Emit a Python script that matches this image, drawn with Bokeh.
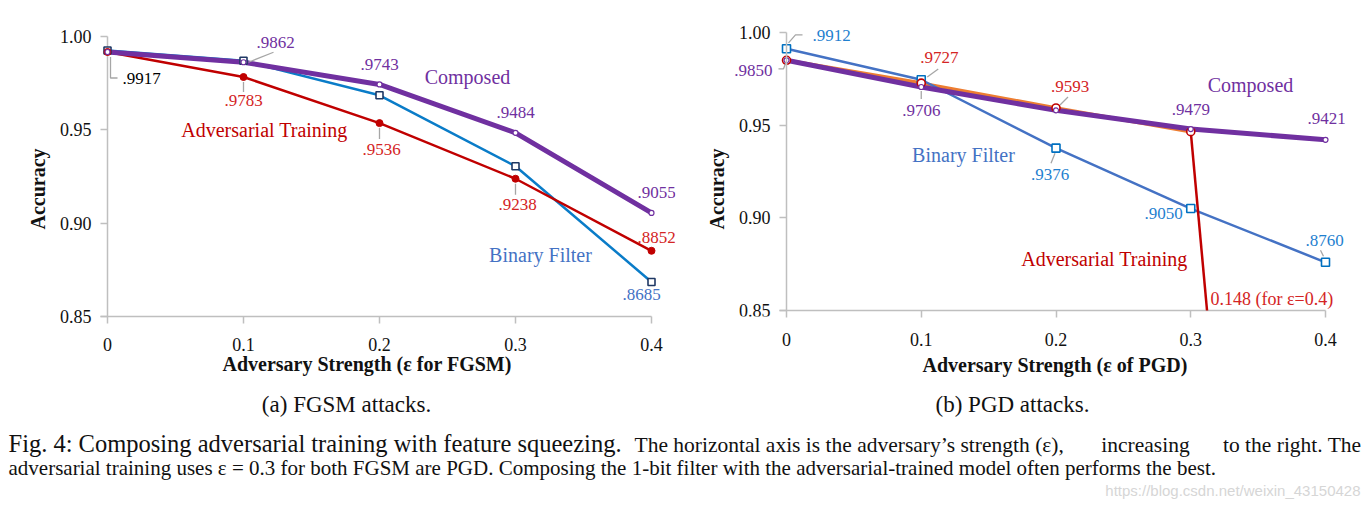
from bokeh.plotting import figure
from bokeh.models import Range1d, FixedTicker, Title, CustomJSTickFormatter
from bokeh.layouts import column, row
from bokeh.embed import file_html
from bokeh.resources import INLINE
from bokeh.core.properties import value

# ---------------- data ----------------
eps = [0.0, 0.1, 0.2, 0.3, 0.4]
x_ticks = [0.0, 0.1, 0.2, 0.3, 0.4]
x_tick_labels = ["0", "0.1", "0.2", "0.3", "0.4"]
y_ticks = [0.85, 0.90, 0.95, 1.00]
y_tick_labels = ["0.85", "0.90", "0.95", "1.00"]
y_floor = 0.85

fgsm_binary = [0.9925, 0.9870, 0.9685, 0.9305, 0.8685]
fgsm_adv = [0.9917, 0.9783, 0.9536, 0.9238, 0.8852]
fgsm_composed = [0.9917, 0.9862, 0.9743, 0.9484, 0.9055]

pgd_binary = [0.9912, 0.9745, 0.9376, 0.9050, 0.8760]
pgd_adv = [0.9850, 0.9727, 0.9593, 0.9465, 0.148]
pgd_composed = [0.9850, 0.9706, 0.9580, 0.9479, 0.9421]

name_binary = "Binary Filter"
name_adv = "Adversarial Training"
name_composed = "Composed"

fgsm_xlabel = "Adversary Strength (ε for FGSM)"
pgd_xlabel = "Adversary Strength (ε of PGD)"
ylabel = "Accuracy"

cap_a = "(a) FGSM attacks."
cap_b = "(b) PGD attacks."
fig_big = "Fig. 4: Composing adversarial training with feature squeezing."
fig_rest_1 = "The horizontal axis is the adversary\u2019s strength (\u03b5),"
fig_rest_2 = "increasing"
fig_rest_3 = "to the right. The"
fig_line2 = ("adversarial training uses \u03b5 = 0.3 for both FGSM are PGD. Composing the 1-bit "
             "filter with the adversarial-trained model often performs the best.")
watermark = "https://blog.csdn.net/weixin_43150428"

# ---------------- style ----------------
PURPLE = "#7030A0"
RED = "#C00000"
RED_TXT = "#D42424"
BLUE_LINE = "#0A7CC8"
BLUE_PGD = "#4472C4"
BLUE_TXT = "#1F7FCF"
NAME_BLUE = "#4472C4"
ORANGE = "#ED7D31"
NAVY = "#1F3864"
AXIS_GREY = "#BFBFBF"
LEAD_GREY = "#A6A6A6"
SERIF = "Liberation Serif"
TICK_FONT = "Liberation Serif, serif"
TXT = "#111111"

TICK_FMT_CODE = """
let best = 0, d = Infinity;
for (let i = 0; i < tvals.length; i++) {
  const e = Math.abs(tvals[i] - tick);
  if (e < d) { d = e; best = i; }
}
return tlabels[best];
"""

HEIGHT = 392
FRAME_TOP = 14
FRAME_BOTTOM = 316


class Geom:
    def __init__(self, ax, pxx, top1, pxy):
        self.ax, self.pxx, self.top1, self.pxy = ax, pxx, top1, pxy

    def px(self, lx, ly):
        return (lx - self.ax) / self.pxx, 1 - (ly - self.top1) / self.pxy

    def off(self, x, v, dx, dy):
        return x + dx / self.pxx, v - dy / self.pxy


def base_fig(g, width, left, right, ys):
    xs = (left - g.ax) / g.pxx
    xe = (width - right - g.ax) / g.pxx
    ye = 1 + (g.top1 - FRAME_TOP) / g.pxy
    p = figure(width=width, height=HEIGHT, x_range=Range1d(xs, xe), y_range=Range1d(ys, ye),
               min_border_left=left, min_border_right=right, min_border_top=FRAME_TOP,
               min_border_bottom=HEIGHT - FRAME_BOTTOM, toolbar_location=None,
               output_backend="svg")
    p.outline_line_color = None
    p.grid.visible = False
    p.background_fill_color = "white"
    p.border_fill_color = "white"
    p.xaxis.ticker = FixedTicker(ticks=x_ticks)
    p.xaxis.formatter = CustomJSTickFormatter(args=dict(tvals=x_ticks, tlabels=x_tick_labels),
                                              code=TICK_FMT_CODE)
    p.yaxis.ticker = FixedTicker(ticks=y_ticks)
    p.yaxis.formatter = CustomJSTickFormatter(args=dict(tvals=y_ticks, tlabels=y_tick_labels),
                                              code=TICK_FMT_CODE)
    for ax in (p.xaxis, p.yaxis):
        ax.axis_line_color = AXIS_GREY
        ax.axis_line_width = 1.5
        ax.major_tick_line_color = AXIS_GREY
        ax.major_tick_line_width = 1.5
        ax.minor_tick_line_color = None
        ax.major_label_text_font = TICK_FONT
        ax.major_label_text_font_size = "18px"
        ax.major_label_text_color = TXT
    return p


def add_titles(p, xlabel, xt_offset, xt_standoff, yt_offset, yt_standoff):
    p.add_layout(Title(text=xlabel, align="left", offset=xt_offset, standoff=xt_standoff,
                       text_font=SERIF, text_font_size="20px", text_font_style="bold",
                       text_color=TXT), "below")
    p.add_layout(Title(text=ylabel, align="left", offset=yt_offset, standoff=yt_standoff,
                       text_font=SERIF, text_font_size="20px", text_font_style="bold",
                       text_color=TXT), "left")


def add_labels(p, g, labels):
    for vals, i, color, dx, dy, align in labels:
        x, y = g.off(eps[i], vals[i], dx, dy)
        txt = ("%.4f" % vals[i])[1:]
        p.text(x=[x], y=[y], text=[txt], text_color=color, text_font=value(SERIF),
               text_font_size=value("17px"), text_align=align, text_baseline="middle")


def add_leaders(p, g, leaders):
    xs_all, ys_all = [], []
    for vals, i, pts in leaders:
        xs, ys = [], []
        for dx, dy in pts:
            x, y = g.off(eps[i], vals[i], dx, dy)
            xs.append(x)
            ys.append(y)
        xs_all.append(xs)
        ys_all.append(ys)
    p.multi_line(xs=xs_all, ys=ys_all, line_color=LEAD_GREY, line_width=1.3)


def add_name(p, g, lx, ly, txt, color, size="20px", align="center"):
    x, y = g.px(lx, ly)
    p.text(x=[x], y=[y], text=[txt], text_color=color, text_font=value(SERIF),
           text_font_size=value(size), text_align=align, text_baseline="middle")


# ---------------- (a) FGSM ----------------
g1 = Geom(ax=107, pxx=1360.0, top1=36, pxy=(FRAME_BOTTOM - 36) / (1 - y_floor))
p1 = base_fig(g1, 680, 100, 5, y_floor)
p1.xaxis.bounds = (-7 / g1.pxx, x_ticks[-1])
p1.xaxis.major_tick_out = 7
p1.xaxis.major_tick_in = 0
p1.xaxis.major_label_standoff = 14
p1.yaxis.axis_line_color = None
p1.yaxis.major_tick_out = 0
p1.yaxis.major_tick_in = 7
p1.yaxis.major_label_standoff = 9
p1.segment(x0=[0], y0=[y_floor], x1=[0], y1=[y_ticks[-1]], line_color=AXIS_GREY, line_width=1.5)
add_titles(p1, fgsm_xlabel, 222 - 100, -6, 87, 15)

p1.line(eps, fgsm_binary, line_color=BLUE_LINE, line_width=2.5)
p1.line(eps, fgsm_adv, line_color=RED, line_width=2.5)
p1.line(eps, fgsm_composed, line_color=PURPLE, line_width=5)
p1.scatter(eps, fgsm_binary, marker="square", size=7, fill_color="white",
           line_color=NAVY, line_width=1.6)
p1.scatter(eps, fgsm_adv, marker="circle", size=7, fill_color=RED, line_color=RED)
p1.scatter(eps, fgsm_composed, marker="circle", size=5, fill_color="white",
           line_color=PURPLE, line_width=1.2)

add_leaders(p1, g1, [
    (fgsm_composed, 0, [(3, 5), (3, 26), (10, 26)]),
    (fgsm_composed, 1, [(5, 0), (30, -10)]),
    (fgsm_adv, 1, [(0, 5), (0, 15)]),
    (fgsm_adv, 2, [(0, 5), (0, 16)]),
    (fgsm_adv, 3, [(0, 5), (0, 16)]),
])
add_labels(p1, g1, [
    (fgsm_composed, 0, "#000000", 15, 26.5, "left"),
    (fgsm_composed, 1, PURPLE, 32, -20, "center"),
    (fgsm_composed, 2, PURPLE, 0, -20, "center"),
    (fgsm_composed, 3, PURPLE, 0, -20, "center"),
    (fgsm_composed, 4, PURPLE, 5, -20, "center"),
    (fgsm_adv, 1, RED_TXT, 0, 23.5, "center"),
    (fgsm_adv, 2, RED_TXT, 2, 26, "center"),
    (fgsm_adv, 3, RED_TXT, 2, 26, "center"),
    (fgsm_adv, 4, RED_TXT, 5, -13, "center"),
    (fgsm_binary, 4, NAME_BLUE, -10, 13, "center"),
])
add_name(p1, g1, 467, 76, name_composed, PURPLE)
add_name(p1, g1, 264, 129, name_adv, RED)
add_name(p1, g1, 540, 254, name_binary, NAME_BLUE)

# ---------------- (b) PGD ----------------
# 0.85 sits 6 px above the (row-aligned) frame bottom in this panel
g2 = Geom(ax=106, pxx=1347.5, top1=32, pxy=1853.3)
p2 = base_fig(g2, 689, 48, 5, y_floor - 6 / g2.pxy)
p2.xaxis.axis_line_color = None
p2.xaxis.major_tick_in = 6
p2.xaxis.major_tick_out = 1
p2.xaxis.major_label_standoff = 15
p2.yaxis.fixed_location = 0
p2.yaxis.bounds = (y_floor, y_ticks[-1])
p2.yaxis.major_tick_out = 7
p2.yaxis.major_tick_in = 0
p2.yaxis.major_label_standoff = 9
p2.segment(x0=[-7 / g2.pxx], y0=[y_floor], x1=[x_ticks[-1]], y1=[y_floor],
           line_color=AXIS_GREY, line_width=1.5)
add_titles(p2, pgd_xlabel, 922 - 680 - 48, 6, 87, 2)

# adversarial-training drop towards 0.148, cut where it meets the 0.85 floor
x_cross = eps[3] + (eps[4] - eps[3]) * (pgd_adv[3] - y_floor) / (pgd_adv[3] - pgd_adv[4])

p2.line(eps[:4], pgd_adv[:4], line_color=ORANGE, line_width=3.5)
p2.line(eps, pgd_binary, line_color=BLUE_PGD, line_width=2.5)
p2.line(eps, pgd_composed, line_color=PURPLE, line_width=5)
p2.line([eps[3], x_cross], [pgd_adv[3], y_floor], line_color=RED, line_width=2.5)
p2.scatter(eps, pgd_binary, marker="square", size=8, fill_color="white",
           line_color="#0070C0", line_width=1.6)
p2.scatter(eps[:4], pgd_adv[:4], marker="circle", size=8, fill_color="white",
           line_color=RED, line_width=1.6)
p2.scatter(eps, pgd_composed, marker="circle", size=5, fill_color="white",
           line_color=PURPLE, line_width=1.2)

add_leaders(p2, g2, [
    (pgd_binary, 0, [(2, -6), (9, -14), (16, -14)]),
    (pgd_composed, 0, [(0, 1), (-3, 8.5), (-8, 8.5)]),
    (pgd_adv, 1, [(6, -6), (17, -14)]),
    (pgd_composed, 1, [(0, 4), (0, 12)]),
    (pgd_adv, 2, [(4, -3), (12, -11)]),
    (pgd_binary, 2, [(-1, 5), (-5, 15)]),
    (pgd_binary, 4, [(-2, -6), (-5, -12)]),
])
add_labels(p2, g2, [
    (pgd_binary, 0, BLUE_TXT, 26, -13, "left"),
    (pgd_composed, 0, PURPLE, -14, 10, "right"),
    (pgd_adv, 1, RED_TXT, 18, -26, "center"),
    (pgd_composed, 1, PURPLE, 0, 23.5, "center"),
    (pgd_adv, 2, RED_TXT, 14, -21, "center"),
    (pgd_composed, 3, PURPLE, 0, -20, "center"),
    (pgd_composed, 4, PURPLE, 1, -21, "center"),
    (pgd_binary, 2, BLUE_TXT, -6, 26, "center"),
    (pgd_binary, 3, BLUE_TXT, -8, 5, "right"),
    (pgd_binary, 4, BLUE_TXT, -1, -22, "center"),
])
add_name(p2, g2, 1250 - 680, 84, name_composed, PURPLE)
add_name(p2, g2, 963 - 680, 154, name_binary, NAME_BLUE)
add_name(p2, g2, 1104 - 680, 258, name_adv, RED)
add_name(p2, g2, 1210 - 680, 298, "%s (for \u03b5=%s)" % (pgd_adv[4], eps[4]), RED_TXT,
         size="18px", align="left")

# ---------------- captions ----------------
p3 = figure(width=1369, height=508 - HEIGHT, x_range=Range1d(0, 1369),
            y_range=Range1d(508, HEIGHT), x_axis_type=None, y_axis_type=None, min_border=0,
            toolbar_location=None, output_backend="svg")
p3.outline_line_color = None
p3.grid.visible = False


def cap(x, y, txt, size, align="left", color=TXT, font=SERIF):
    p3.text(x=[x], y=[y], text=[txt], text_color=color, text_font=value(font),
            text_font_size=value(size), text_align=align, text_baseline="middle")


cap(346, 404, cap_a, "23px", "center")
cap(1012, 404, cap_b, "23px", "center")
cap(8, 443, fig_big, "24.5px")
cap(634, 444, fig_rest_1, "21.5px")
cap(1145, 444, fig_rest_2, "21.5px", "center")
cap(1361, 444, fig_rest_3, "21.5px", "right")
cap(8, 467, fig_line2, "21px")
cap(1360, 490, watermark, "15px", "right", "#D6D6D6", "Liberation Sans")

layout = column(row(p1, p2), p3)
open("out.html", "w").write(file_html(layout, INLINE))
